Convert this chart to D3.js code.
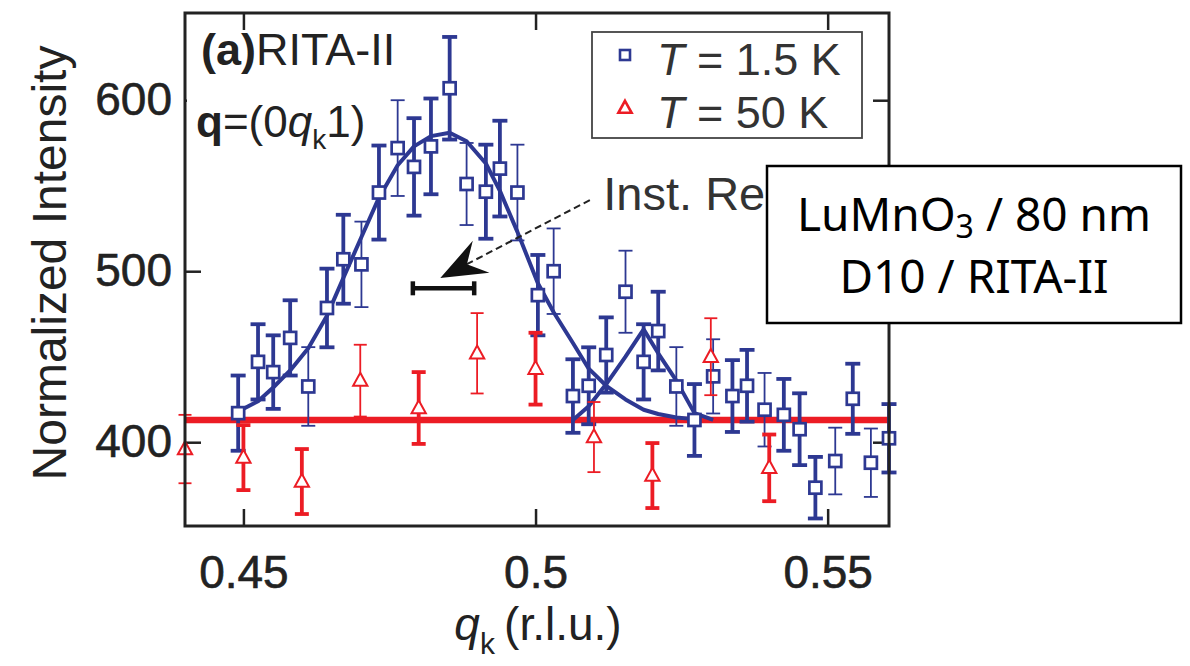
<!DOCTYPE html>
<html><head><meta charset="utf-8">
<script src="https://cdn.jsdelivr.net/npm/d3@7"></script>
<style>
html,body{margin:0;padding:0;background:#fff;}
svg{display:block;}
</style></head><body>
<svg id="chart" width="1190" height="666"></svg>
<script>
// ---- T = 1.5 K, scan 1 ----
const lowT1Q   = [0.4491,0.4525,0.4551,0.4580,0.4643,0.4671,0.4732,0.4792,0.4821,0.4853,0.4915,0.4939,0.5004,0.5064,0.5091,0.5121,0.5185,0.5210,0.5272,0.5337,0.5362,0.5425,0.5452,0.5479,0.5543,0.5605];
const lowT1I   = [417,447,441,461,478.5,507,546,561,573,607,546.5,560,486,427,433,451,447,465,413,427,433,416,407.6,373.4,425.4,402.3];
const lowT1Err = [22,22,21.5,22,23,26,27.5,28.5,28,30,27.5,28,23.5,21.5,22.5,22,22,23,21,21,21,21,21,18,20.5,20];
// ---- T = 1.5 K, scan 2 ----
const lowT2Q   = [0.4611,0.4702,0.4764,0.4882,0.4969,0.5031,0.5154,0.5241,0.5304,0.5392,0.5513,0.5574];
const lowT2I   = [432.6,504,572,551,546,500,488,432.6,438.5,419,389,388];
const lowT2Err = [23,25,28,24,28,25,24,23,21.7,21.5,19.5,20];
// ---- T = 50 K, scan 1 ----
const highT1Q   = [0.45,0.46,0.48,0.50,0.52,0.54];
const highT1I   = [391,377,420,443,380.5,385];
const highT1Err = [19,19,21,21,19,19.5];
// ---- T = 50 K, scan 2 ----
const highT2Q   = [0.44,0.47,0.49,0.51,0.53];
const highT2I   = [396,436,452,403,450];
const highT2Err = [20,21,23.5,20.5,22.5];

// Fitted profiles (T = 1.5 K): main peak and satellite
const fitMainQ = [0.4491,0.4525,0.4551,0.4580,0.4611,0.4643,0.4671,0.4702,0.4732,0.4764,0.4792,0.4821,0.4853,0.4882,0.4915,0.4939,0.4969,0.5004,0.5031,0.5064,0.5091,0.5121,0.5154,0.5185,0.5210,0.5241,0.5272];
const fitMainI = [418,424,432,442,455,474,496,520,543,562,573,579,581,576,563,547,523,493,476,458,443,433,425,419,416.5,414.5,413.5];
const fitSatQ  = [0.5064,0.5091,0.5121,0.5154,0.5185,0.5210,0.5241,0.5272,0.5304];
const fitSatI  = [413,421,434,450,466,452,436,417,413];
// Flat background (T = 50 K)
const bgQ = [0.44,0.5605];
const bgI = [413,413];

// Instrumental resolution (FWHM in q_k) and its level
const resQ = [0.4790,0.4895];
const resI = 490;

// Axis ticks
const xTicks = [0.45,0.5,0.55];
const yTicks = [400,500,600];

const BLUE = "#2d3892", RED = "#ec1c24", INK = "#222";
const SANS = "'Liberation Sans', Arial, Helvetica, sans-serif";

const svg = d3.select("#chart");
const W = 1190, H = 666;
const P = {left:185, right:889, top:13, bottom:526};

const x = d3.scaleLinear().domain([0.44,0.5605]).range([P.left,P.right]);
const y = d3.scaleLinear().domain([351,651]).range([P.bottom,P.top]);

svg.append("rect").attr("width",W).attr("height",H).attr("fill","#fff");

// ---- axes (ticks point inward) ----
const fmt = d => String(d);
const axB = svg.append("g").attr("transform",`translate(0,${P.bottom})`)
  .call(d3.axisBottom(x).tickValues(xTicks).tickSize(-17).tickPadding(29).tickFormat(fmt));
const axT = svg.append("g").attr("transform",`translate(0,${P.top})`)
  .call(d3.axisTop(x).tickValues(xTicks).tickSize(-17).tickFormat(""));
const axL = svg.append("g").attr("transform",`translate(${P.left},0)`)
  .call(d3.axisLeft(y).tickValues(yTicks).tickSize(-16).tickPadding(13).tickFormat(fmt));
const axR = svg.append("g").attr("transform",`translate(${P.right},0)`)
  .call(d3.axisRight(y).tickValues(yTicks).tickSize(-16).tickFormat(""));
[axB,axT,axL,axR].forEach(a=>{
  a.select(".domain").remove();
  a.selectAll(".tick line").attr("stroke",INK).attr("stroke-width",2.5);
  a.selectAll("text").attr("fill",INK).attr("stroke",INK).attr("stroke-width",0.6)
    .style("font-family",SANS).style("font-size","46px");
});

// ---- T = 50 K background line ----
const line = d3.line().x(d=>x(d[0])).y(d=>y(d[1]));
svg.append("path").attr("d",line(d3.zip(bgQ,bgI)))
  .attr("fill","none").attr("stroke",RED).attr("stroke-width",6.5);

// ---- fit curves ----
svg.append("path").attr("d",line(d3.zip(fitMainQ,fitMainI)))
  .attr("fill","none").attr("stroke",BLUE).attr("stroke-width",4).attr("stroke-linejoin","round");
svg.append("path").attr("d",line(d3.zip(fitSatQ,fitSatI)))
  .attr("fill","none").attr("stroke",BLUE).attr("stroke-width",4).attr("stroke-linejoin","round");

// ---- error bars + markers ----
function errorBars(qs, is, es, color, sw, cap){
  const g = svg.append("g").attr("stroke",color).attr("stroke-width",sw).attr("fill","none");
  qs.forEach((q,i)=>{
    const cx = x(q), y0 = y(is[i]-es[i]), y1 = y(is[i]+es[i]);
    g.append("line").attr("x1",cx).attr("x2",cx).attr("y1",y0).attr("y2",y1);
    g.append("line").attr("x1",cx-cap/2).attr("x2",cx+cap/2).attr("y1",y0).attr("y2",y0);
    g.append("line").attr("x1",cx-cap/2).attr("x2",cx+cap/2).attr("y1",y1).attr("y2",y1);
  });
}
function squares(qs, is, size){
  svg.append("g").selectAll("rect").data(d3.zip(qs,is)).join("rect")
    .attr("x",d=>x(d[0])-size/2).attr("y",d=>y(d[1])-size/2)
    .attr("width",size).attr("height",size)
    .attr("fill","#fff").attr("stroke",BLUE).attr("stroke-width",2.7);
}
const triPath = s => `M0,${-s*0.6}L${s*0.55},${s*0.4}L${-s*0.55},${s*0.4}Z`;
function triangles(qs, is, size){
  svg.append("g").selectAll("path").data(d3.zip(qs,is)).join("path")
    .attr("transform",d=>`translate(${x(d[0])},${y(d[1])})`)
    .attr("d",triPath(size))
    .attr("fill","#fff").attr("stroke",RED).attr("stroke-width",2);
}

errorBars(lowT1Q,lowT1I,lowT1Err,BLUE,3.8,15);
errorBars(lowT2Q,lowT2I,lowT2Err,BLUE,1.8,14);
squares(lowT1Q,lowT1I,12);
squares(lowT2Q,lowT2I,12);

errorBars(highT1Q,highT1I,highT1Err,RED,3.8,14);
errorBars(highT2Q,highT2I,highT2Err,RED,1.8,13);
triangles(highT1Q,highT1I,13);
triangles(highT2Q,highT2I,13);

// ---- instrumental resolution bar ----
{
  const g = svg.append("g").attr("stroke","#111").attr("stroke-width",4.5);
  const ry = y(resI);
  g.append("line").attr("x1",x(resQ[0])).attr("x2",x(resQ[1])).attr("y1",ry).attr("y2",ry);
  resQ.forEach(q=>g.append("line").attr("x1",x(q)).attr("x2",x(q)).attr("y1",ry-7).attr("y2",ry+7));
}

// ---- arrow from the label to the resolution bar ----
{
  const tail = [x(0.5093), y(541.6)], tip = [x(0.4837), y(496)];
  const dx = tip[0]-tail[0], dy = tip[1]-tail[1];
  const len = Math.hypot(dx,dy), ang = Math.atan2(dy,dx)*180/Math.PI;
  const L = 46, Wd = 18, notch = 30;
  const g = svg.append("g").attr("transform",`translate(${tail[0]},${tail[1]}) rotate(${ang})`);
  g.append("line").attr("x1",0).attr("y1",0).attr("x2",len-notch).attr("y2",0)
    .attr("stroke","#222").attr("stroke-width",2).attr("stroke-dasharray","7,4");
  g.append("path")
    .attr("d",`M${len},0L${len-L},${-Wd}L${len-notch},0L${len-L},${Wd}Z`)
    .attr("fill","#111");
  svg.append("text").attr("x",x(0.5116)).attr("y",y(535.8))
    .attr("fill","#333").style("font-family",SANS).style("font-size","47px")
    .text("Inst. Res.");
}

// ---- panel labels ----
{
  const t = svg.append("text").attr("x",201).attr("y",65).attr("fill",INK)
    .style("font-family",SANS).style("font-size","45px");
  t.append("tspan").attr("font-weight","bold").text("(a)");
  t.append("tspan").text("RITA-II");

  svg.append("rect").attr("x",P.left+2).attr("y",92).attr("width",182).attr("height",66).attr("fill","#fff");
  const q = svg.append("text").attr("x",196).attr("y",137).attr("fill",INK)
    .style("font-family",SANS).style("font-size","44px");
  q.append("tspan").attr("font-weight","bold").text("q");
  q.append("tspan").text("=(0");
  q.append("tspan").attr("font-style","italic").text("q");
  q.append("tspan").attr("font-size","28px").attr("dy",12).text("k");
  q.append("tspan").attr("dy",-12).text("1)");
}

// ---- legend ----
{
  const g = svg.append("g");
  g.append("rect").attr("x",592).attr("y",32).attr("width",270).attr("height",106)
    .attr("fill","#fff").attr("stroke","#444").attr("stroke-width",1.8);
  g.append("rect").attr("x",620).attr("y",50).attr("width",10).attr("height",10)
    .attr("fill","#fff").attr("stroke",BLUE).attr("stroke-width",2.6);
  g.append("path").attr("transform","translate(625,108)").attr("d",triPath(12))
    .attr("fill","#fff").attr("stroke",RED).attr("stroke-width",2.6);
  [["1.5 K",75],["50 K",128]].forEach(([lab,by])=>{
    const t = g.append("text").attr("x",657).attr("y",by).attr("fill","#333")
      .style("font-family",SANS).style("font-size","45px");
    t.append("tspan").attr("font-style","italic").text("T");
    t.append("tspan").text(" = " + lab);
  });
}

// ---- frame ----
svg.append("rect").attr("x",P.left).attr("y",P.top)
  .attr("width",P.right-P.left).attr("height",P.bottom-P.top)
  .attr("fill","none").attr("stroke",INK).attr("stroke-width",3);

// ---- axis titles ----
svg.append("text").attr("transform",`translate(66,${263}) rotate(-90)`)
  .attr("text-anchor","middle").attr("fill",INK)
  .style("font-family",SANS).style("font-size","48px").text("Normalized Intensity");
{
  const t = svg.append("text").attr("x",538).attr("y",640).attr("text-anchor","middle").attr("fill",INK)
    .style("font-family",SANS).style("font-size","46px");
  t.append("tspan").attr("font-style","italic").text("q");
  t.append("tspan").attr("font-size","30px").attr("dy",14).text("k");
  t.append("tspan").attr("dy",-14).text("\u2009(r.l.u.)");
}

// ---- sample / instrument box ----
{
  const g = svg.append("g");
  g.append("rect").attr("x",767).attr("y",166).attr("width",414).attr("height",157)
    .attr("fill","#fff").attr("stroke","#000").attr("stroke-width",2.5);
  const f = "'Noto Sans', 'Open Sans', sans-serif";
  const t1 = g.append("text").attr("x",974).attr("y",231).attr("text-anchor","middle")
    .style("font-family",f).style("font-size","46px").attr("fill","#000");
  t1.append("tspan").text("LuMnO");
  t1.append("tspan").attr("font-size","32px").attr("dy",7).text("3");
  t1.append("tspan").attr("dy",-7).text(" / 80 nm");
  g.append("text").attr("x",974).attr("y",293).attr("text-anchor","middle")
    .style("font-family",f).style("font-size","46px").attr("fill","#000").text("D10 / RITA-II");
}
</script>
</body></html>
